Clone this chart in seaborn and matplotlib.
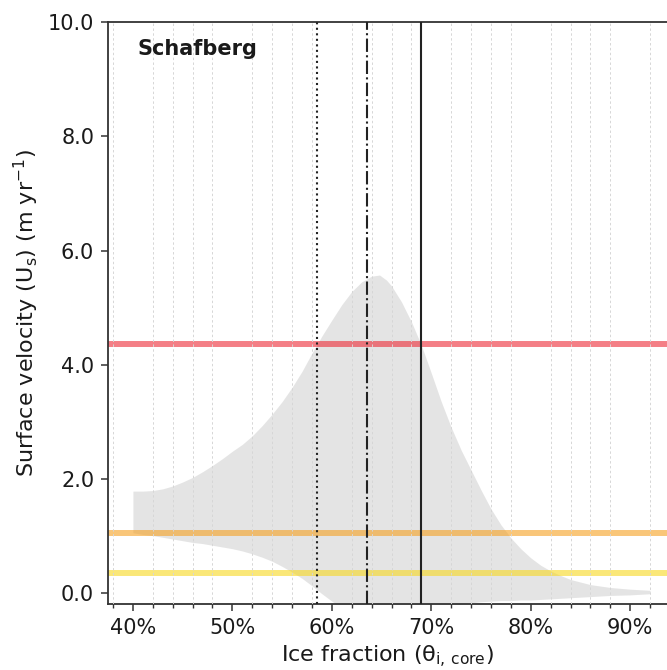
import matplotlib
matplotlib.use("Agg")
import matplotlib.pyplot as plt
from matplotlib.ticker import MultipleLocator, FuncFormatter
import seaborn as sns

# envelope of modelled surface velocity vs ice fraction
ice_frac = [40, 41, 42, 43, 44, 45, 46, 47, 48, 49, 50, 51, 52, 53, 54, 55,
            56, 57, 58, 59, 60, 61, 62, 63, 64, 64.8, 65.5, 66, 67, 68, 69,
            70, 71, 72, 73, 74, 75, 76, 77, 78, 79, 80, 81, 82, 83, 84, 86,
            88, 90, 92]
vel_upper = [1.78, 1.78, 1.79, 1.82, 1.87, 1.94, 2.02, 2.12, 2.23, 2.35,
             2.48, 2.60, 2.75, 2.93, 3.13, 3.35, 3.60, 3.88, 4.20, 4.50,
             4.78, 5.05, 5.28, 5.45, 5.55, 5.57, 5.48, 5.38, 5.10, 4.75,
             4.34, 3.85, 3.35, 2.90, 2.50, 2.15, 1.80, 1.47, 1.19, 0.96,
             0.77, 0.61, 0.48, 0.38, 0.30, 0.23, 0.14, 0.09, 0.06, 0.04]
vel_lower = [1.05, 1.02, 1.00, 0.97, 0.94, 0.91, 0.88, 0.86, 0.83, 0.80,
             0.77, 0.73, 0.68, 0.62, 0.55, 0.46, 0.36, 0.25, 0.12, -0.02,
             -0.15, -0.28, -0.35, -0.35, -0.35, -0.35, -0.35, -0.35, -0.35,
             -0.35, -0.35, -0.35, -0.30, -0.25, -0.20, -0.18, -0.16, -0.15,
             -0.14, -0.14, -0.13, -0.13, -0.12, -0.11, -0.10, -0.09, -0.07,
             -0.05, -0.04, -0.02]

# observed velocities (horizontal bands)
obs_vel = [4.36, 1.04, 0.34]
obs_colors = ["#ee2a35", "#f5a020", "#f8d81e"]

# ice fraction markers
marker_frac = [58.5, 63.5, 69.0]
marker_styles = [":", "-.", "-"]

sns.set_style("ticks")
plt.rcParams["font.family"] = ["DejaVu Sans"]
plt.rcParams["text.color"] = "#1a1a1a"
plt.rcParams["axes.labelcolor"] = "#1a1a1a"
plt.rcParams["xtick.color"] = "#1a1a1a"
plt.rcParams["ytick.color"] = "#1a1a1a"

fig = plt.figure(figsize=(6.67, 6.70), dpi=100)
ax = fig.add_axes([0.162, 0.0985, 0.838, 0.868])

ax.fill_between(ice_frac, vel_lower, vel_upper, color="lightgrey", alpha=0.6,
                lw=0, zorder=1)

for v, c in zip(obs_vel, obs_colors):
    ax.axhline(v, color=c, lw=4.3, alpha=0.6, zorder=2)

for x, ls in zip(marker_frac, marker_styles):
    ax.axvline(x, color="#222222", ls=ls, lw=1.5, zorder=3)

ax.set_xlim(37.5, 93.7)
ax.set_ylim(-0.2, 10)
ax.xaxis.set_major_locator(MultipleLocator(10))
ax.xaxis.set_minor_locator(MultipleLocator(2))
ax.yaxis.set_major_locator(MultipleLocator(2))
ax.xaxis.set_major_formatter(FuncFormatter(lambda v, p: f"{v:.0f}%"))
ax.yaxis.set_major_formatter(FuncFormatter(lambda v, p: f"{v:.1f}"))
ax.grid(which="minor", axis="x", color="#d6d6d6", ls=(0, (2.5, 2.5)), lw=0.7,
        zorder=0)
ax.set_axisbelow(False)
ax.tick_params(axis="both", which="major", labelsize=15, length=5, width=1.1,
               pad=5, color="#333333")
ax.tick_params(axis="x", which="minor", length=3, width=1.0, color="#333333")

for side in ["left", "bottom", "top"]:
    ax.spines[side].set_color("#333333")
    ax.spines[side].set_linewidth(1.3)
ax.spines["right"].set_visible(False)

ax.set_xlabel(r"Ice fraction ($\mathrm{\theta_{i,\,core}}$)", fontsize=16,
              labelpad=4)
ax.set_ylabel(r"Surface velocity ($\mathrm{U_{s}}$) (m yr$^{-1}$)", fontsize=16,
              labelpad=5)
ax.text(0.052, 0.954, "Schafberg", transform=ax.transAxes, fontsize=15,
        fontweight="bold", va="center", ha="left")

fig.savefig("out.png", dpi=100)
